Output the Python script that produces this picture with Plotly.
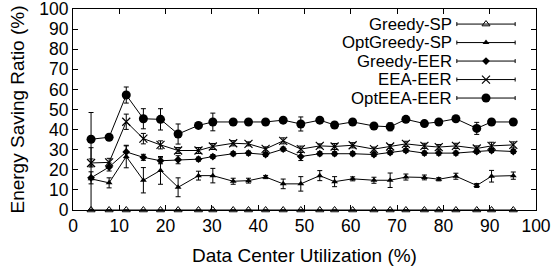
import plotly.graph_objects as go

x_util = [3.9, 7.8, 11.5, 15.2, 18.9, 22.7, 27.1, 30.2, 34.6, 37.9, 41.6, 45.4, 49.2,
          53.3, 56.5, 60.4, 65.0, 68.5, 71.9, 75.9, 79.0, 82.7, 87.2, 90.4, 95.1]

greedy_sp = [0.0] * 25
greedy_sp_err = [0.0] * 25

opt_greedy_sp = [15.5, 13.5, 26.6, 14.8, 19.7, 11.3, 17.1, 17.1, 14.3, 14.6, 16.4, 13.0, 13.0,
                 17.1, 14.1, 15.5, 14.8, 14.8, 16.4, 16.2, 15.3, 16.8, 12.2, 16.8, 17.1]
opt_greedy_sp_err = [15.5, 2.5, 5.6, 6.3, 6.9, 4.7, 2.2, 3.6, 1.5, 1.2, 0.8, 2.4, 3.6,
                     2.5, 2.5, 1.0, 1.5, 3.6, 1.5, 1.2, 0.8, 1.5, 1.0, 2.9, 1.8]

greedy_eer = [16.0, 21.4, 28.9, 26.2, 24.5, 25.0, 25.3, 26.6, 28.0, 28.3, 27.6, 30.3, 26.6,
              28.0, 28.0, 28.0, 27.6, 28.6, 29.6, 28.3, 28.3, 28.3, 29.1, 29.6, 29.1]
greedy_eer_err = [3.0, 2.0, 3.0, 1.5, 1.5, 2.0, 1.0, 1.0, 1.0, 1.0, 1.0, 1.0, 2.0,
                  1.0, 1.0, 1.0, 1.0, 1.0, 1.0, 1.0, 1.0, 1.0, 1.0, 1.0, 1.0]

eea_eer = [23.4, 23.7, 43.9, 35.5, 32.4, 29.6, 29.6, 31.6, 33.2, 32.9, 30.4, 34.4, 30.3,
           31.9, 31.6, 32.2, 30.3, 31.6, 32.9, 31.9, 31.3, 31.9, 30.6, 31.9, 32.4]
eea_eer_err = [2.0, 2.0, 3.8, 2.6, 2.0, 1.5, 1.5, 1.5, 1.3, 1.0, 1.0, 1.5, 1.5,
               1.0, 1.5, 1.3, 1.0, 1.0, 1.3, 1.3, 1.3, 1.3, 1.3, 1.8, 1.5]

opt_eea_eer = [35.2, 36.2, 57.2, 45.4, 45.1, 37.8, 42.1, 43.8, 43.8, 43.8, 43.8, 44.7, 42.8,
               44.7, 42.3, 43.8, 41.8, 41.4, 45.1, 43.0, 43.8, 45.4, 40.6, 43.8, 43.8]
opt_eea_eer_err = [13.3, 1.0, 4.0, 5.0, 5.3, 5.0, 1.0, 4.4, 1.0, 1.0, 1.0, 1.0, 3.5,
                   1.0, 1.0, 1.0, 1.0, 2.0, 1.0, 1.0, 1.0, 1.0, 3.0, 1.0, 1.0]

series_names = ["Greedy-SP", "OptGreedy-SP", "Greedy-EER", "EEA-EER", "OptEEA-EER"]
series_vals = [greedy_sp, opt_greedy_sp, greedy_eer, eea_eer, opt_eea_eer]
series_errs = [greedy_sp_err, opt_greedy_sp_err, greedy_eer_err, eea_eer_err, opt_eea_eer_err]
x_ticks = list(range(0, 101, 10))
y_ticks = list(range(0, 101, 10))

styles = [
    dict(symbol="triangle-up-open", size=7, color="black", line=dict(width=1, color="black")),
    dict(symbol="triangle-up", size=6, color="black", line=dict(width=0)),
    dict(symbol="diamond", size=6, color="black", line=dict(width=0)),
    dict(symbol="x-thin-open", size=8, color="black", line=dict(width=1.2, color="black")),
    dict(symbol="circle", size=9, color="black", line=dict(width=0)),
]

FONT = "Liberation Sans, Arial, Helvetica, sans-serif"
fig = go.Figure()

for name, vals, errs, st in zip(series_names, series_vals, series_errs, styles):
    fig.add_trace(go.Scatter(
        x=x_util, y=vals, name=name, mode="lines+markers",
        line=dict(color="black", width=1),
        marker=st,
        error_y=dict(type="data", array=errs, visible=True, color="black",
                     thickness=1, width=2.5),
        showlegend=False, cliponaxis=False,
    ))

# gnuplot-style key: text right-aligned, sample (line with caps + marker) on the right
key_top = 0.925
key_step = 0.092
key_text_x = 0.820
key_sample_x = 0.892
key_sample_half = 0.063
for i, (name, st) in enumerate(zip(series_names, styles)):
    ky = key_top - i * key_step
    fig.add_trace(go.Scatter(
        x=[key_sample_x], y=[ky], xaxis="x2", yaxis="y2", mode="markers",
        marker=st, showlegend=False, hoverinfo="skip",
        error_x=dict(type="constant", value=key_sample_half, color="black",
                     thickness=1, width=2),
    ))
    fig.add_annotation(x=key_text_x, y=ky, xref="paper", yref="paper", text=name,
                       showarrow=False, xanchor="right", yanchor="middle", borderpad=0,
                       font=dict(family=FONT, size=16.8, color="black"))

axis_common = dict(
    showline=True, linecolor="black", linewidth=1, mirror="ticks",
    ticks="inside", ticklen=5, tickcolor="black", tickwidth=1,
    showgrid=False, zeroline=False, automargin=False,
    ticklabeloverflow="allow",
    tickfont=dict(family=FONT, size=17.5, color="black"),
)

fig.update_layout(
    width=555, height=274,
    margin=dict(l=73, r=19, t=8.5, b=63.5, autoexpand=False),
    paper_bgcolor="white", plot_bgcolor="white",
    font=dict(family=FONT, size=17.5, color="black"),
    xaxis=dict(range=[0, 100], tickvals=x_ticks,
               title=dict(text="Data Center Utilization (%)", standoff=13,
                          font=dict(family=FONT, size=19)),
               **axis_common),
    yaxis=dict(range=[0, 100], tickvals=y_ticks,
               title=dict(text="Energy Saving Ratio (%)", standoff=9,
                          font=dict(family=FONT, size=19)),
               **axis_common),
    xaxis2=dict(range=[0, 1], overlaying="x", visible=False, fixedrange=True),
    yaxis2=dict(range=[0, 1], overlaying="y", visible=False, fixedrange=True),
    showlegend=False,
)

fig.write_html(
    "out.html",
    config={"displayModeBar": False},
    post_script="document.body.style.margin='0';document.body.style.overflow='hidden';",
)
